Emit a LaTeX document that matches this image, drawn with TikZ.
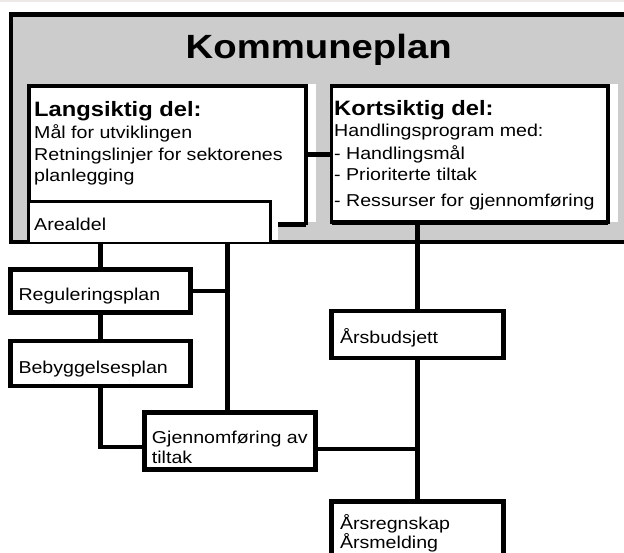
\documentclass[tikz,border=0pt]{standalone}
\usepackage{fontspec}
\setmainfont[FakeStretch=1.14]{Liberation Sans}
\definecolor{panelgray}{RGB}{204,204,204}
\definecolor{bandgray}{RGB}{236,233,230}
\tikzset{
  thinbox/.style={draw=black, fill=white, line width=3.2pt, outer sep=0pt, inner sep=0pt, anchor=north west},
  thickbox/.style={draw=black, fill=white, line width=4.7pt, outer sep=0pt, inner sep=0pt, anchor=north west},
  conn/.style={draw=black, line width=4.6pt},
  body/.style={font=\fontsize{17.2}{20}\selectfont, inner sep=0pt, anchor=base west},
  head/.style={font=\bfseries\fontsize{20.8}{24}\selectfont, inner sep=0pt, anchor=base west},
  shadowstrip/.style={fill=white, draw=none}
}
\begin{document}
\begin{tikzpicture}[x=1pt,y=-1pt]
\clip (0,0) rectangle (624,552);
\fill[white] (0,0) rectangle (624,552);
\fill[bandgray] (0,0) rectangle (624,1.8);

% outer Kommuneplan panel
\node[draw=black, fill=panelgray, line width=4.5pt, outer sep=0pt, inner sep=0pt, anchor=north west,
      minimum width=700pt, minimum height=227.7pt] (outer) at (11.2,14.5) {};
\node[font=\bfseries\fontsize{33.6}{38}\selectfont, inner sep=0pt, anchor=base] (title) at (318.7,58.5) {Kommuneplan};

% Langsiktig del
\fill[shadowstrip] (300,84.3) rectangle (316,222.3);
\node[thinbox, minimum width=277pt, minimum height=137.5pt] (lang) at (29,86) {};
\draw[line width=4.4pt] ([yshift=-1pt]lang.south west) -- ([yshift=-1pt]lang.south east);
\node[head] (langh) at (34,116.5) {Langsiktig del:};
\node[body] (lang1) at (34,138.3) {Mål for utviklingen};
\node[body] (lang2) at (34,160) {Retningslinjer for sektorenes};
\node[body] (lang3) at (34,181.7) {planlegging};

% Kortsiktig del
\fill[shadowstrip] (600,84.3) rectangle (617.7,222.3);
\node[thinbox, minimum width=276.3pt, minimum height=136.5pt] (kort) at (331.7,86) {};
\draw[line width=5pt] ([yshift=-0.2pt]kort.south west) -- ([yshift=-0.2pt]kort.south east);
\node[head] (korth) at (334,115) {Kortsiktig del:};
\node[body] (kort1) at (334,136.7) {Handlingsprogram med:};
\node[body] (kort2) at (334,159.3) {- Handlingsmål};
\node[body] (kort3) at (334,180.7) {- Prioriterte tiltak};
\node[body] (kort4) at (334,206.7) {- Ressurser for gjennomføring};

\draw[conn] (lang.east) -- (lang.east -| kort.west);

% Arealdel
\fill[shadowstrip] (270,202) rectangle (278.3,240);
\node[thinbox, line width=2.8pt, minimum width=241.5pt, minimum height=41.7pt] (areal) at (28.8,201.3) {};
\node[body] (arealt) at (34,230.7) {Arealdel};

% lower boxes
\node[thickbox, minimum width=179.7pt, minimum height=43pt] (reg) at (10.8,269.5) {};
\node[body] (regt) at (18.3,300) {Reguleringsplan};
\node[thickbox, minimum width=179.7pt, minimum height=45pt] (beb) at (10.8,341) {};
\node[body] (bebt) at (18.3,373.3) {Bebyggelsesplan};
\node[thickbox, minimum width=171.6pt, minimum height=57.3pt] (gj) at (144.2,412.5) {};
\node[body] (gjt1) at (151.7,443.5) {Gjennomføring av};
\node[body] (gjt2) at (151.7,463.5) {tiltak};
\node[thickbox, minimum width=172pt, minimum height=47pt] (bud) at (331.7,311) {};
\node[body] (budt) at (339.8,343.4) {Årsbudsjett};
\node[thickbox, minimum width=172pt, minimum height=80pt] (regn) at (331.7,501.4) {};
\node[body] (regnt1) at (339.8,529.5) {Årsregnskap};
\node[body] (regnt2) at (339.8,548) {Årsmelding};

% connectors
\coordinate (midx) at ([xshift=-2.5pt]gj.north);
\coordinate (gjl) at ([yshift=-6pt]gj.west);
\coordinate (gjr) at ([yshift=-8pt]gj.east);
\draw[conn] (areal.south -| reg.north) -- (reg.north);
\draw[conn] (reg.south) -- (beb.north);
\draw[conn] (beb.south) |- (gjl);
\draw[conn] (areal.south -| midx) -- (midx);
\draw[conn] (reg.east) -- (reg.east -| midx);
\draw[conn] (kort.south -| bud.north) -- (bud.north);
\draw[conn] (bud.south) -- (regn.north);
\draw[conn] ([xshift=2pt]gjr) -- (gjr -| bud.south);
\end{tikzpicture}
\end{document}
